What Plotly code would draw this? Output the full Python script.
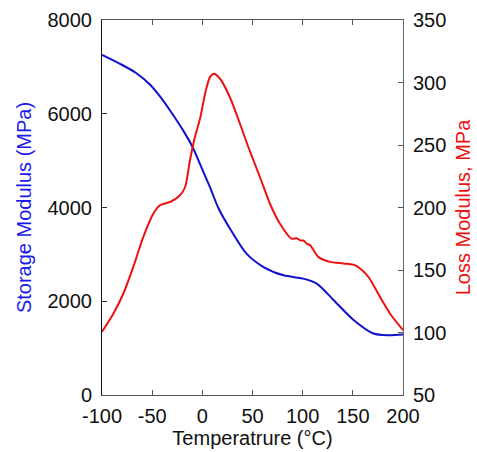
import plotly.graph_objects as go

temp_storage = [-100, -82, -66, -52, -42, -32, -19, -9.6, -2.4, 7.6, 16, 27.6, 44, 61, 81, 100.6, 114, 131, 151, 170.5, 185, 200]
storage = [7255, 7065, 6870, 6620, 6365, 6065, 5640, 5284, 4931, 4433, 3990, 3547, 3015, 2730, 2553, 2483, 2377, 2022, 1596, 1313, 1275, 1290]

temp_loss = [-100, -88.7, -78.8, -68.8, -58.8, -48.9, -42.2, -30.6, -22.3, -17.3, -12.3, -7.5, -2, 3, 7.6, 11.6, 17.6, 27.6, 37.5, 45.8, 57.4, 67.4, 77.4, 89, 94, 98, 101, 104, 107.3, 115.6, 127.2, 140.5, 152, 159, 166, 177, 188, 200]
loss = [100.6, 115, 131, 152.5, 176.5, 195, 201.8, 205, 209.8, 216, 237.8, 256, 272, 292, 304.3, 307, 303, 288, 267, 248.4, 224.4, 203, 187, 175, 175.4, 173.6, 173.6, 171, 169.9, 160.5, 156.5, 155.2, 153.9, 150, 144, 128.5, 114, 102]

x_ticks = [-100, -50, 0, 50, 100, 150, 200]
x_tick_labels = ["-100", "-50", "0", "50", "100", "150", "200"]
left_ticks = [0, 2000, 4000, 6000, 8000]
right_ticks = [50, 100, 150, 200, 250, 300, 350]

font_family = "Liberation Sans, Arial, sans-serif"

fig = go.Figure()
fig.add_trace(go.Scatter(x=temp_storage, y=storage, mode="lines",
                         line=dict(color="#1111cc", width=2, shape="spline", smoothing=0.8),
                         name="Storage Modulus", yaxis="y"))
fig.add_trace(go.Scatter(x=temp_loss, y=loss, mode="lines",
                         line=dict(color="#ee1111", width=2, shape="spline", smoothing=0.7),
                         name="Loss Modulus", yaxis="y2"))

fig.update_layout(
    width=477, height=452,
    margin=dict(l=102, r=74, t=20, b=57, autoexpand=False),
    paper_bgcolor="white", plot_bgcolor="white",
    showlegend=False,
    font=dict(family=font_family, size=20, color="#111"),
    xaxis=dict(range=[-100, 200], tickvals=x_ticks, ticktext=x_tick_labels,
               ticks="inside", ticklen=5, ticklabelstandoff=3, automargin=False,
               tickcolor="#555", showline=True, linecolor="#555", linewidth=1,
               mirror="ticks", showgrid=False, zeroline=False,
               title=dict(text="Temperatrure (°C)", standoff=0,
                          font=dict(size=20, color="#111"))),
    yaxis=dict(range=[0, 8000], tickvals=left_ticks, ticks="inside", ticklen=5,
               ticklabelstandoff=5, automargin=False,
               tickcolor="#333", showline=True, linecolor="#111", linewidth=1,
               showgrid=False, zeroline=False,
               title=dict(text="Storage Modulus (MPa)", standoff=10,
                          font=dict(size=20, color="#1a1aee"))),
    yaxis2=dict(range=[50, 350], tickvals=right_ticks, ticks="inside", ticklen=5,
                ticklabelstandoff=5, automargin=False,
                tickcolor="#555", showline=True, linecolor="#666", linewidth=1,
                overlaying="y", side="right", showgrid=False, zeroline=False,
                title=dict(text="Loss Modulus, MPa", standoff=10,
                           font=dict(size=20, color="#ee1111"))),
)

fig.write_html("out.html", config={"displayModeBar": False},
               post_script="document.body.style.margin='0';document.body.style.overflow='hidden';")
